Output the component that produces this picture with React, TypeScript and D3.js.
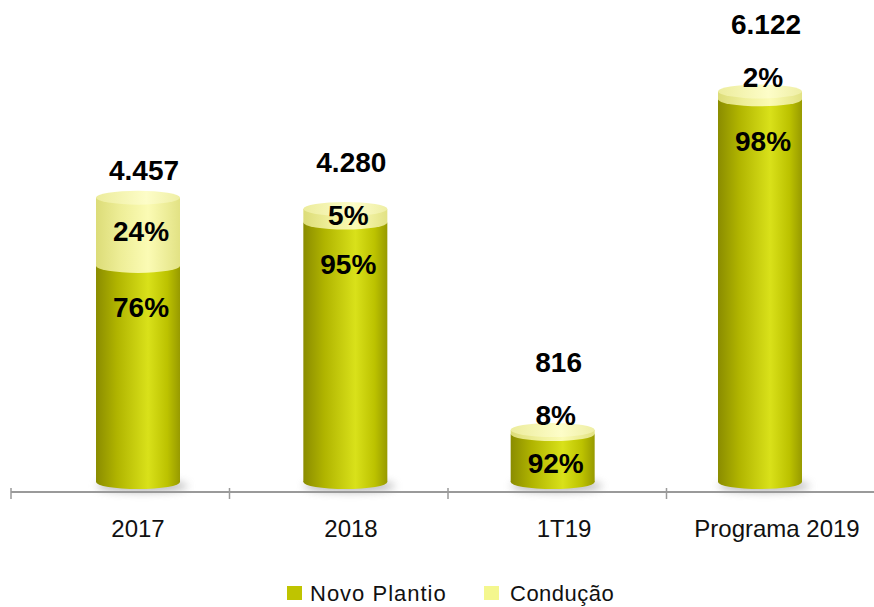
import React from "react";
import { scaleBand, scalePoint, scaleLinear } from "d3";

const categories = ["2017", "2018", "1T19", "Programa 2019"];
const totals = [4457, 4280, 816, 6122];
const totalLabels = ["4.457", "4.280", "816", "6.122"];
const novoPlantioPct = [76, 95, 92, 98];
const conducaoPct = [24, 5, 8, 2];
const seriesNames = ["Novo Plantio", "Condução"];

const W = 874;
const H = 607;
const baseY = 482;
const rx = 42;
const ry = 7;

export default function App() {
  // axis ticks / category bands
  const xAxis = scaleBand<string>().domain(categories).range([11, 885]);
  // perspective-ish centers of cylinders and labels
  const xBar = scalePoint<string>().domain(categories).range([138, 760]);
  const xLabel = scalePoint<string>().domain(categories).range([138, 777]);
  const y = scaleLinear().domain([0, 7000]).range([baseY, baseY - 0.0638 * 7000]);

  const bars = categories.map((c, i) => {
    const top = y(totals[i]);
    const novoTop = y((totals[i] * novoPlantioPct[i]) / 100);
    const condH = novoTop - top;
    const condLabelY = condH > 12 ? (top + novoTop) / 2 : top - 14;
    const novoLabelY = Math.min(novoTop + 42, (novoTop + baseY) / 2 + 5);
    const totalY = Math.min(top - 27, condLabelY - 53);
    return { c, i, cx: xBar(c)!, top, novoTop, condLabelY, novoLabelY, totalY };
  });

  return (
    <svg width={W} height={H} style={{ position: "absolute", left: 0, top: 0, background: "#fff" }}>
      <defs>
        <linearGradient id="novo" x1="0" x2="1" y1="0" y2="0">
          <stop offset="0%" stopColor="#8a8c00" />
          <stop offset="25%" stopColor="#b0b400" />
          <stop offset="62%" stopColor="#d9e11a" />
          <stop offset="85%" stopColor="#bcc200" />
          <stop offset="100%" stopColor="#979a00" />
        </linearGradient>
        <linearGradient id="cond" x1="0" x2="1" y1="0" y2="0">
          <stop offset="0%" stopColor="#dcdc78" />
          <stop offset="30%" stopColor="#eeee98" />
          <stop offset="62%" stopColor="#fbfbb4" />
          <stop offset="100%" stopColor="#e2e284" />
        </linearGradient>
        <linearGradient id="condTop" x1="0" x2="1" y1="0" y2="0">
          <stop offset="0%" stopColor="#ecec9c" />
          <stop offset="60%" stopColor="#fdfdc8" />
          <stop offset="100%" stopColor="#eeeea4" />
        </linearGradient>
        <filter id="blur" x="-30%" y="-100%" width="160%" height="300%">
          <feGaussianBlur stdDeviation="4" />
        </filter>
      </defs>

      {/* shadows */}
      {bars.map((b) => (
        <ellipse key={"s" + b.c} cx={b.cx + 4} cy={baseY + 4} rx={rx + 4} ry={6}
          fill="#8a8a8a" opacity={0.6} filter="url(#blur)" />
      ))}

      {/* cylinders */}
      {bars.map((b) => (
        <g key={b.c}>
          <ellipse cx={b.cx} cy={baseY} rx={rx} ry={ry} fill="url(#novo)" />
          <rect x={b.cx - rx} y={b.novoTop} width={rx * 2} height={baseY - b.novoTop} fill="url(#novo)" />
          <ellipse cx={b.cx} cy={b.novoTop} rx={rx} ry={ry} fill="url(#cond)" />
          <rect x={b.cx - rx} y={b.top} width={rx * 2} height={b.novoTop - b.top} fill="url(#cond)" />
          <ellipse cx={b.cx} cy={b.top} rx={rx} ry={ry} fill="url(#condTop)" />
        </g>
      ))}

      {/* axis */}
      <line x1={11} x2={W} y1={492} y2={492} stroke="#9a9a9a" strokeWidth={2} />
      {categories.map((c) => (
        <line key={"t" + c} x1={xAxis(c)!} x2={xAxis(c)!} y1={488} y2={499} stroke="#9a9a9a" strokeWidth={1.5} />
      ))}

      {/* category labels */}
      {categories.map((c) => (
        <text key={"l" + c} x={xLabel(c)!} y={537} textAnchor="middle"
          fontFamily="Liberation Sans, Arial, sans-serif" fontSize={24} fill="#111">
          {c}
        </text>
      ))}

      {/* value labels */}
      {bars.map((b) => (
        <g key={"v" + b.c} fontFamily="Liberation Sans, Arial, sans-serif" fontWeight="bold"
          fontSize={28} fill="#000" textAnchor="middle" dominantBaseline="central">
          <text x={b.cx + 6} y={b.totalY}>{totalLabels[b.i]}</text>
          <text x={b.cx + 3} y={b.condLabelY}>{conducaoPct[b.i]}%</text>
          <text x={b.cx + 3} y={b.novoLabelY}>{novoPlantioPct[b.i]}%</text>
        </g>
      ))}

      {/* legend */}
      <g fontFamily="Liberation Sans, Arial, sans-serif" fontSize={22} fill="#111">
        <rect x={287} y={586} width={15} height={14} fill="#bfc400" />
        <text x={310} y={601} letterSpacing={1}>{seriesNames[0]}</text>
        <rect x={484} y={586} width={15} height={14} fill="#f4f78e" />
        <text x={510} y={601} letterSpacing={0.5}>{seriesNames[1]}</text>
      </g>
    </svg>
  );
}
